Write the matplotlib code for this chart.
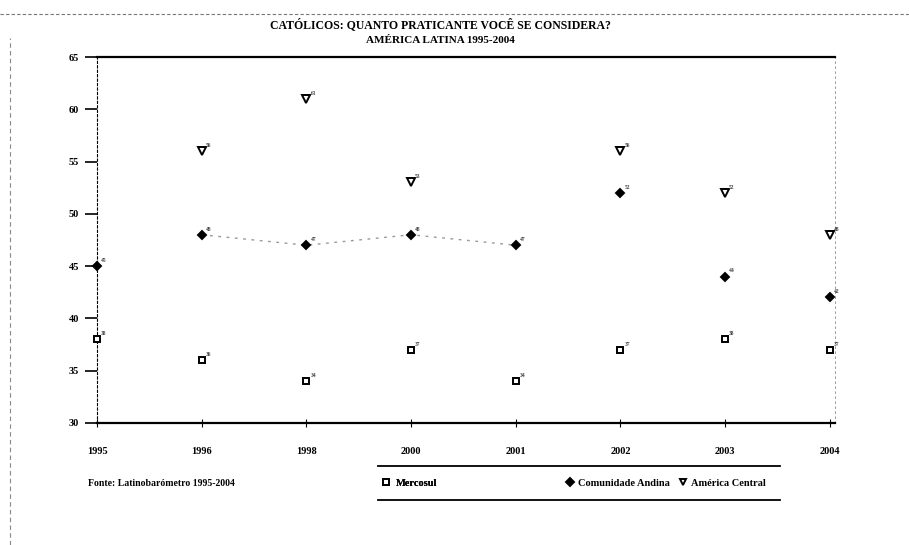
import matplotlib.pyplot as plt
from matplotlib.lines import Line2D
import numpy as np

anos = ['1995', '1996', '1998', '2000', '2001', '2002', '2003', '2004']
mercosul = [38, 36, 34, 37, 34, 37, 38, 37]
andina = [45, 48, 47, 48, 47, 52, 44, 42]
central = [None, 56, 61, 53, None, 56, 52, 48]

plt.rcParams['font.family'] = ['Liberation Serif', 'DejaVu Serif']
plt.rcParams['font.weight'] = 'bold'

fig = plt.figure(figsize=(9.09, 5.45), dpi=100)
ax = fig.add_axes([0.1067, 0.2239, 0.8119, 0.6715])

x = np.arange(len(anos))

# linha pontilhada da Comunidade Andina (1996-2001)
ax.plot(x[1:5], andina[1:5], ls=(0, (2, 4)), color='#999999', lw=1.0, zorder=1)

def serie(vals, marker, fill, lab, ms):
    xs = [xi for xi, v in zip(x, vals) if v is not None]
    ys = [v for v in vals if v is not None]
    h, = ax.plot(xs, ys, ls='none', marker=marker, ms=ms, mec='black',
                 mfc=fill, mew=1.4, clip_on=False, zorder=3, label=lab)
    for xi, v in zip(xs, ys):
        ax.annotate(str(v), (xi, v), xytext=(3, 3), textcoords='offset points',
                    fontsize=4, color='#444444', annotation_clip=False)
    return h

h1 = serie(mercosul, 's', 'white', 'Mercosul', 5)
h2 = serie(andina, 'D', 'black', 'Comunidade Andina', 4.5)
h3 = serie(central, 'v', 'white', 'América Central', 5.5)

ax.set_xlim(0, 7.05)
ax.set_ylim(30, 65)
ax.set_yticks(range(30, 66, 5))
ax.set_xticks(x)
ax.set_xticklabels(anos)
ax.tick_params(axis='y', direction='out', length=9, width=1.2, labelsize=7.5, pad=4)
ax.tick_params(axis='x', direction='inout', length=6, width=0.8, labelsize=7.5, pad=14)

ax.spines['top'].set_linewidth(1.6)
ax.spines['bottom'].set_linewidth(1.6)
ax.spines['left'].set_linewidth(0.8)
ax.spines['left'].set_linestyle((0, (2, 2)))
ax.spines['right'].set_linewidth(0.6)
ax.spines['right'].set_color('#888888')
ax.spines['right'].set_linestyle((0, (2, 4)))

fig.text(0.485, 0.955, 'CATÓLICOS: QUANTO PRATICANTE VOCÊ SE CONSIDERA?',
         ha='center', va='center', fontsize=8.5)
fig.text(0.485, 0.925, 'AMÉRICA LATINA 1995-2004',
         ha='center', va='center', fontsize=8)
fig.text(0.097, 0.113, 'Fonte: Latinobarómetro 1995-2004', ha='left', va='center', fontsize=7)

# moldura do scan
fig.add_artist(Line2D([0.0, 1.0], [0.975, 0.975], transform=fig.transFigure,
                      color='#777777', lw=0.8, ls=(0, (3, 2))))
fig.add_artist(Line2D([0.011, 0.011], [0.0, 0.93], transform=fig.transFigure,
                      color='#888888', lw=0.8, ls=(0, (4, 3))))

# legenda com linhas em cima e embaixo
leg1 = fig.legend(handles=[h1], loc='center left', bbox_to_anchor=(0.41, 0.113),
                  fontsize=7.5, frameon=False, handlelength=0.8, handletextpad=0.5,
                  markerscale=0.8)
fig.add_artist(leg1)
leg2 = fig.legend(handles=[h2, h3], loc='center left', bbox_to_anchor=(0.612, 0.113),
                  ncol=2, fontsize=7.5, frameon=False, handlelength=0.8,
                  handletextpad=0.4, columnspacing=0.8, markerscale=0.8)
for yy in (0.145, 0.083):
    fig.add_artist(Line2D([0.416, 0.858], [yy, yy], transform=fig.transFigure,
                          color='black', lw=1.3))

fig.savefig('out.png', dpi=100)
